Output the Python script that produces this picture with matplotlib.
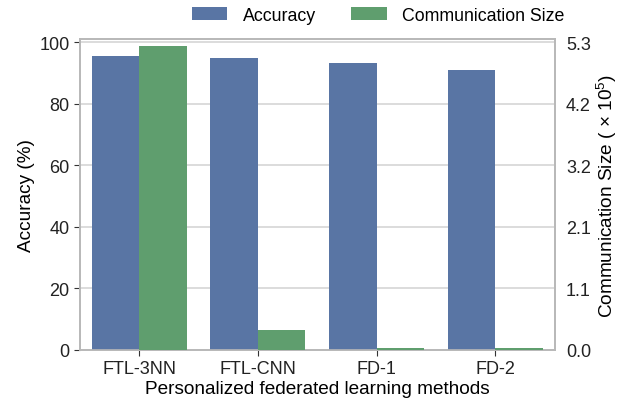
import matplotlib.pyplot as plt
import numpy as np

plt.rcParams['font.family'] = ['Liberation Sans', 'DejaVu Sans']
plt.rcParams['mathtext.fontset'] = 'custom'
plt.rcParams['mathtext.rm'] = 'Liberation Sans'
plt.rcParams['mathtext.it'] = 'Liberation Sans:italic'

methods = ['FTL-3NN', 'FTL-CNN', 'FD-1', 'FD-2']
accuracy = [95.5, 94.8, 93.3, 90.9]
comm_size = [5.23, 0.34, 0.04, 0.04]  # x10^5

blue = '#5975a4'
green = '#5f9e6e'
spine_col = '#b8b8b8'

fig, ax = plt.subplots(figsize=(6.24, 4.02), dpi=100)
ax2 = ax.twinx()

x = np.arange(len(methods))
w = 0.4
ax.bar(x - w / 2, accuracy, w, color=blue, label='Accuracy', zorder=3)
ax2.bar(x + w / 2, comm_size, w, color=green, label='Communication Size', zorder=3)

top = 101
ax.set_ylim(0, top)
ax2.set_ylim(0, 5.3 * top / 100)
ax.set_xlim(-0.5, 3.5)
ax.set_yticks([0, 20, 40, 60, 80, 100])
ax2.set_yticks(np.linspace(0, 5.3, 6))
ax2.set_yticklabels(['%.1f' % v for v in np.linspace(0, 5.3, 6)])
ax.set_xticks(x)
ax.set_xticklabels(methods)

ax.yaxis.grid(True, color='#d5d5d5', linewidth=1.2, zorder=0)
ax.set_axisbelow(True)

for a in (ax, ax2):
    for s in a.spines.values():
        s.set_color(spine_col)
        s.set_linewidth(1.2)
ax.tick_params(axis='both', labelsize=13, length=4, color='#333333', colors='#222222')
ax2.tick_params(axis='y', labelsize=13, length=0, colors='#222222', pad=8)

ax.set_ylabel('Accuracy (%)', fontsize=13.7, labelpad=3)
ax2.set_ylabel('Communication Size ( × 10$^5$)', fontsize=13.7, labelpad=3)
ax.set_xlabel('Personalized federated learning methods', fontsize=13.7, labelpad=2)

h1, l1 = ax.get_legend_handles_labels()
h2, l2 = ax2.get_legend_handles_labels()
fig.legend(h1 + h2, l1 + l2, ncol=2, frameon=False, fontsize=12.8,
           loc='upper right', bbox_to_anchor=(0.93, 1.02),
           handlelength=2.0, handleheight=0.75, handletextpad=0.85,
           columnspacing=2.0)

fig.subplots_adjust(left=0.128, right=0.889, top=0.9, bottom=0.127)
fig.savefig('out.png', dpi=100)
